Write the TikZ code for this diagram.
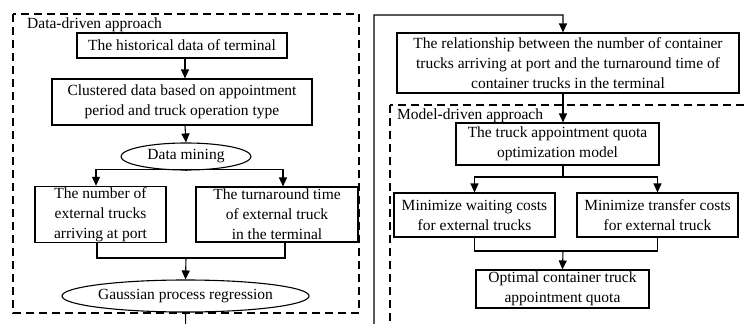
\documentclass[tikz,border=0pt]{standalone}
\usepackage{fontspec}
\setmainfont{Liberation Serif}
\usetikzlibrary{shapes.geometric,arrows.meta,calc}
\begin{document}
\begin{tikzpicture}[x=1pt,y=-1pt,
  every node/.style={font=\fontsize{15.5}{20}\selectfont, inner sep=1pt},
  box/.style={draw, line width=1.1pt, align=center, minimum width=#1},
  oval/.style={draw, ellipse, line width=1.1pt, minimum width=#1, inner sep=0pt},
  frame/.style={draw, line width=1.1pt, dash pattern=on 8pt off 5pt},
  conn/.style={draw, line width=1.1pt},
  arr/.style={conn, -{Triangle[length=9pt,width=8pt]}},
  lbl/.style={anchor=west, inner sep=0pt}]
\useasboundingbox (0,0) rectangle (748,324);
\clip (0,0) rectangle (748,324);

% frames
\draw[frame] (13,14) rectangle (359,313);
\draw[frame] (390,105) rectangle (780,360);
\node[lbl] (ldd) at (27,25) {Data-driven approach};
\node[lbl] (lmd) at (397,116) {Model-driven approach};

% left side
\node[box=210pt, minimum height=25pt] (h1) at (182,45.5) {The historical data of terminal};
\node[box=260pt, minimum height=46pt] (h2) at (182,102) {Clustered data based on appointment\\period and truck operation type};
\node[oval=130pt, minimum height=27pt] (dm) at (186,156.5) {Data mining};
\node[box=131pt, minimum height=55pt] (n1) at (100.5,214.5) {The number of\\external trucks\\arriving at port};
\node[box=162pt, minimum height=55pt] (n2) at (277,214.5) {The turnaround time\\of external truck\\in the terminal};
\node[oval=237pt, minimum height=32pt] (gpr) at (185.5,296) {Gaussian process regression};

% right side
\node[box=342pt, minimum height=60pt] (rel) at (568,63) {The relationship between the number of container\\trucks arriving at port and the turnaround time of\\container trucks in the terminal};
\node[box=203pt, minimum height=42pt] (q) at (557.5,144) {The truck appointment quota\\optimization model};
\node[box=161pt, minimum height=44pt] (w1) at (474.5,215) {Minimize waiting costs\\for external trucks};
\node[box=161pt, minimum height=44pt] (w2) at (657.5,215) {Minimize transfer costs\\for external truck};
\node[box=173pt, minimum height=38pt] (opt) at (562.5,289) {Optimal container truck\\appointment quota};

% coordinates
\coordinate (sp1) at (186,169.5);
\coordinate (m1) at (186,258);
\coordinate (lo) at (186,345);
\coordinate (ro) at (374,345);
\coordinate (tp) at (374,15);
\coordinate (sp2) at (563,177);
\coordinate (m2) at (563,251);

% left connectors
\draw[arr] ([xshift=3pt]h1.south) -- ([xshift=3pt]h1.south |- h2.north);
\draw[arr] ([xshift=3pt]h2.south) -- (dm.north);
\draw[conn] (dm.south) -- (sp1);
\draw[arr] (sp1) -| ([xshift=-4.5pt]n1.north);
\draw[arr] (sp1) -| ([xshift=6pt]n2.north);
\draw[conn] ([xshift=-3.5pt]n1.south) |- (m1);
\draw[conn] ([xshift=8pt]n2.south) |- (m1);
\draw[arr] (m1) -- (gpr.north);

% cross connector
\draw[arr] (gpr.south) -- (lo) -- (ro) -- (tp) -| ([xshift=-5pt]rel.north);

% right connectors
\draw[arr] ([xshift=-5pt]rel.south) -- ([xshift=-5pt]rel.south |- q.north);
\draw[conn] ([xshift=5.5pt]q.south) -- (sp2);
\draw[arr] (sp2) -| (w1.north);
\draw[arr] (sp2) -| (w2.north);
\draw[conn] (w1.south) |- (m2);
\draw[conn] (w2.south) |- (m2);
\draw[arr] (m2) -- (opt.north);
\end{tikzpicture}
\end{document}
